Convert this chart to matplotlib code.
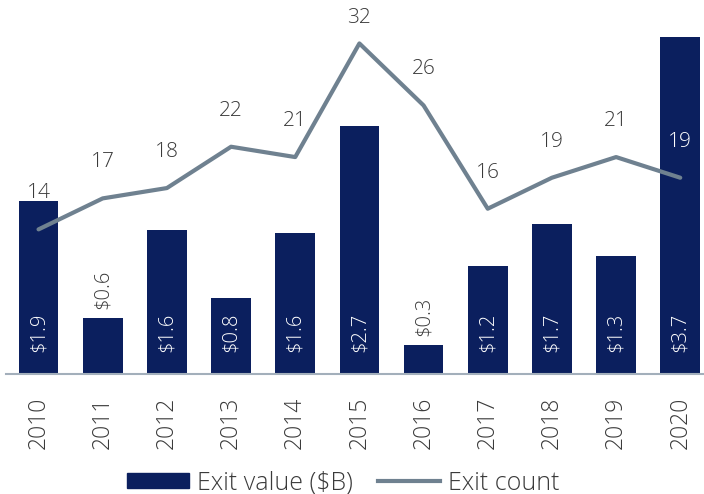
import matplotlib
matplotlib.use("Agg")
import matplotlib.pyplot as plt
from matplotlib.patches import Patch
from matplotlib.lines import Line2D

years = ["2010", "2011", "2012", "2013", "2014", "2015", "2016", "2017", "2018", "2019", "2020"]
exit_value = [1.9, 0.61, 1.58, 0.84, 1.55, 2.72, 0.32, 1.19, 1.65, 1.30, 3.7]
exit_count = [14, 17, 18, 22, 21, 32, 26, 16, 19, 21, 19]
value_labels = ["$1.9", "$0.6", "$1.6", "$0.8", "$1.6", "$2.7", "$0.3", "$1.2", "$1.7", "$1.3", "$3.7"]

plt.rcParams['font.family'] = ['Open Sans', 'DejaVu Sans']
plt.rcParams['font.weight'] = 'light'
bar_color = '#0b1f5e'
line_color = '#6f8190'
text_color = '#3a3a3a'

fig = plt.figure(figsize=(7.04, 4.94), dpi=100)
PX = 72 / 100  # points per pixel
ax = fig.add_axes([6/704, 1 - 374/494, 698/704, 354/494])
x = list(range(len(years)))
ax.bar(x, exit_value, width=0.62, color=bar_color, zorder=2)
ax.set_xlim(-0.507, 10.37)
ax.set_ylim(0, 354/91)
for s in ['top', 'right', 'left']:
    ax.spines[s].set_visible(False)
ax.spines['bottom'].set_color('#a3afbb')
ax.spines['bottom'].set_linewidth(1.5)
ax.set_yticks([])
ax.set_xticks(x)
ax.set_xticklabels(years, rotation=90, fontsize=16.5, color=text_color)
ax.tick_params(axis='x', length=0, pad=23 * PX)

for xi, v, lab in zip(x, exit_value, value_labels):
    if v >= 0.75:
        ax.annotate(lab, (xi, 0), xytext=(0, 22 * PX), textcoords='offset points',
                    rotation=90, ha='center', va='bottom', color='white', fontsize=14.5, zorder=5)
    else:
        ax.annotate(lab, (xi, v), xytext=(0, 9 * PX), textcoords='offset points',
                    rotation=90, ha='center', va='bottom', color=text_color, fontsize=14.5, zorder=5)

ax2 = ax.twinx()
ax2.set_ylim(0, 354/10.33)
ax2.set_yticks([])
for s in ['top', 'right', 'left', 'bottom']:
    ax2.spines[s].set_visible(False)
ax2.plot(x, exit_count, color=line_color, linewidth=3, solid_capstyle='round', zorder=3)
top_limit = 356 / 10.33
for xi, c in zip(x, exit_count):
    col = 'white' if xi == 10 else text_color
    ypos = min(c + 36 / 10.33, top_limit)
    ax2.text(xi, ypos, str(c), ha='center', va='center', color=col, fontsize=15)

handles = [Patch(facecolor=bar_color, edgecolor=bar_color),
           Line2D([0], [0], color=line_color, linewidth=3)]
fig.legend(handles, ['Exit value ($B)', 'Exit count'], loc='center', bbox_to_anchor=(343/704, 1 - 483/494),
           ncol=2, frameon=False, fontsize=18, handlelength=2.5, handleheight=0.58,
           columnspacing=1.0, handletextpad=0.3, labelcolor=text_color)

fig.savefig('out.png', dpi=100)
